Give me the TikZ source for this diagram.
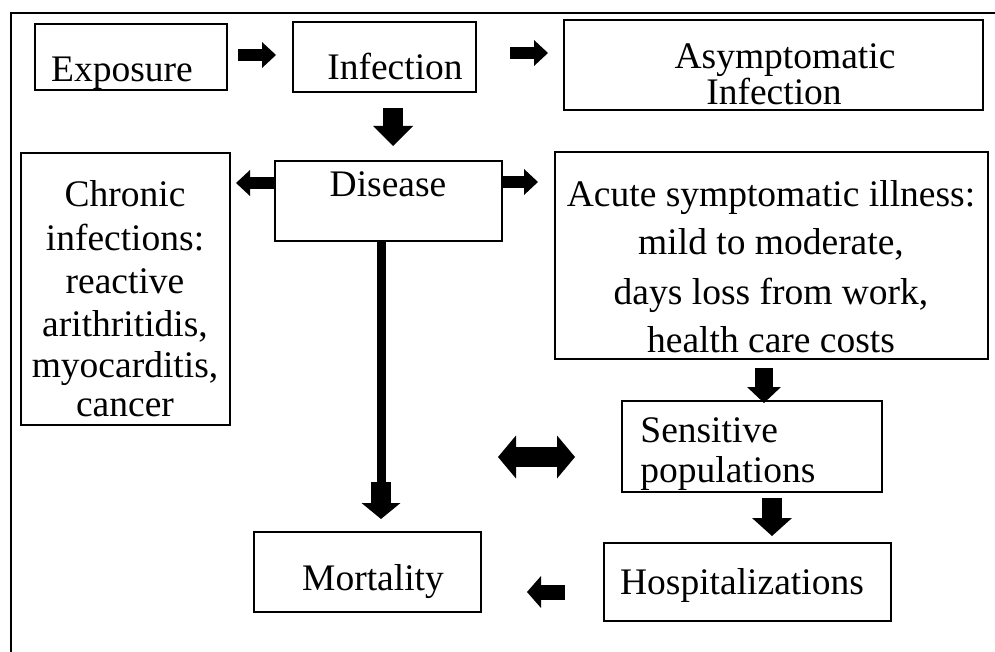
\documentclass[tikz,border=0pt]{standalone}
\usepackage{fontspec}
\setmainfont{Liberation Serif}
\usetikzlibrary{arrows.meta,fit}
\begin{document}
\begin{tikzpicture}[x=0.5pt,y=-0.5pt,
  box/.style={draw, line width=0.9pt, inner sep=0pt},
  txt/.style={inner sep=0pt, anchor=base, font=\fontsize{18.75pt}{22pt}\selectfont},
  blk/.style n args={3}{line width=#1, -{Triangle[width=#2,length=#3,line width=0pt]}},
  dblk/.style n args={3}{line width=#1, {Triangle[width=#2,length=#3,line width=0pt]}-{Triangle[width=#2,length=#3,line width=0pt]}},
]
\useasboundingbox (0,0) rectangle (995,652);

% outer frame (top and left edges)
\coordinate (frA) at (11,652);
\coordinate (frB) at (11,13);
\coordinate (frC) at (995,13);
\draw[line width=0.8pt] (frA) -- (frB) -- (frC);

% boxes
\node[box, fit={(35,24) (227,90)}] (expbox) {};
\node[box, fit={(293,22) (476,92)}] (infbox) {};
\node[box, fit={(564,20) (983,110)}] (asybox) {};
\node[box, fit={(275,161) (502,241)}] (disbox) {};
\node[box, fit={(21,153) (230,425)}] (chrbox) {};
\node[box, fit={(555,152) (988,359)}] (acubox) {};
\node[box, fit={(622,401) (882,492)}] (senbox) {};
\node[box, fit={(604,543) (891,621)}] (hosbox) {};
\node[box, fit={(254,532) (481,612)}] (morbox) {};

% labels
\node[txt] (exp) at (122,82) {Exposure};
\node[txt] (inf) at (395,80) {Infection};
\node[txt] (asy1) at (785,69) {Asymptomatic};
\node[txt] (asy2) at (774,105) {Infection};
\node[txt] (dis) at (388,197) {Disease};
\foreach \t/\yy [count=\i] in {Chronic/207, {infections:}/250, {reactive}/293,
    {arithritidis,}/336, {myocarditis,}/377, cancer/416}
  \node[txt] (chr\i) at (125,\yy) {\t};
\foreach \t/\yy [count=\i] in {{Acute symptomatic illness:}/207,
    {mild to moderate,}/255, {days loss from work,}/304, {health care costs}/352}
  \node[txt] (acu\i) at (771,\yy) {\t};
\node[txt, anchor=base west] (sen1) at (640,442) {Sensitive};
\node[txt, anchor=base west] (sen2) at (640,482) {populations};
\node[txt] (mor) at (373,590) {Mortality};
\node[txt] (hos) at (742,594) {Hospitalizations};

% arrow end points
\coordinate (a1s) at (238,55);  \coordinate (a1e) at (276,55);
\coordinate (a2s) at (510,53);  \coordinate (a2e) at (548,53);
\coordinate (a3s) at (393,108); \coordinate (a3e) at (393,146);
\coordinate (a4e) at (236,183);
\coordinate (a5e) at (538,182);
\coordinate (a6s) at (764,368); \coordinate (a6e) at (764,403);
\coordinate (a7s) at (772,498); \coordinate (a7e) at (772,536);
\coordinate (a8s) at (565,592); \coordinate (a8e) at (527,592);
\coordinate (dbl) at (498,457);  \coordinate (dbr) at (575,457);
\coordinate (lgm) at (381,483);  \coordinate (lge) at (381,519);

% block arrows
\draw[blk={6pt}{13pt}{7pt}] (a1s) -- (a1e);
\draw[blk={6pt}{13pt}{7pt}] (a2s) -- (a2e);
\draw[blk={10pt}{20pt}{10pt}] (a3s) -- (a3e);
\draw[blk={6pt}{13pt}{7pt}] (disbox.west |- a4e) -- (a4e);
\draw[blk={6pt}{13pt}{7pt}] (disbox.east |- a5e) -- (a5e);
\draw[blk={9pt}{17pt}{8pt}] (a6s) -- (a6e);
\draw[blk={10pt}{20pt}{9pt}] (a7s) -- (a7e);
\draw[blk={7.5pt}{16pt}{7pt}] (a8s) -- (a8e);
\draw[dblk={10pt}{21.5pt}{9pt}] (dbl) -- (dbr);

% long arrow from Disease down to Mortality
\draw[line width=4.5pt] (disbox.south -| lgm) -- (lgm);
\draw[blk={10pt}{19.5pt}{8pt}] ([yshift=0.5pt]lgm) -- (lge);
\end{tikzpicture}
\end{document}
